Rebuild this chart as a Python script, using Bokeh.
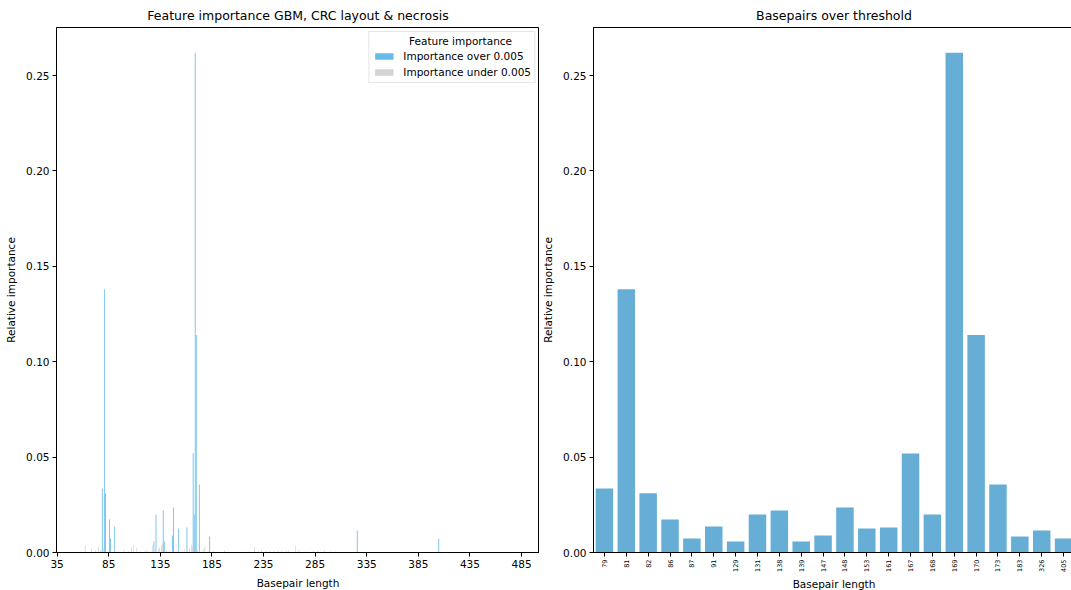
import math

from bokeh.embed import file_html
from bokeh.layouts import row
from bokeh.models import ColumnDataSource, FactorRange, FixedTicker, NumeralTickFormatter, Range1d
from bokeh.plotting import figure
from bokeh.resources import INLINE

# Basepair lengths whose importance is above the 0.005 threshold
bp_over = [79, 81, 82, 86, 87, 91, 129, 131, 138, 139, 147, 148, 153, 161,
           167, 168, 169, 170, 173, 183, 326, 405]
imp_over = [0.0335, 0.138, 0.031, 0.0173, 0.0073, 0.0136, 0.0058, 0.0199,
            0.022, 0.0058, 0.0089, 0.0236, 0.0126, 0.0131, 0.0519, 0.0199,
            0.262, 0.114, 0.0356, 0.0084, 0.0115, 0.0073]

# Basepair lengths below the threshold (only non-negligible ones listed)
bp_under = [57, 62, 68, 72, 75, 77, 80, 85, 90, 94, 99, 104, 107, 109, 112,
            116, 120, 122, 125, 127, 128, 133, 134, 136, 137, 141, 144, 150,
            152, 156, 158, 160, 163, 165, 166, 171, 175, 177, 178, 181, 186,
            190, 197, 205, 214, 220, 226, 230, 233, 237, 241, 245, 249, 252,
            257, 259, 266, 269, 275, 283, 287, 294, 300, 305, 315, 332, 350,
            362, 380, 398, 420, 440, 455, 470, 490]
imp_under = [0.0006, 0.0035, 0.002, 0.0008, 0.003, 0.0015, 0.0025, 0.0015,
             0.0008, 0.0006, 0.0012, 0.0006, 0.0028, 0.0038, 0.0025, 0.0005,
             0.001, 0.0015, 0.0008, 0.0037, 0.003, 0.0018, 0.0025, 0.0038,
             0.0042, 0.001, 0.0012, 0.0008, 0.0015, 0.0012, 0.0018, 0.0015,
             0.0025, 0.0042, 0.003, 0.0015, 0.0008, 0.0022, 0.003, 0.0006,
             0.0006, 0.0004, 0.001, 0.0004, 0.0005, 0.0006, 0.0028, 0.0006,
             0.0012, 0.0008, 0.0006, 0.0008, 0.0012, 0.0006, 0.0008, 0.0012,
             0.0036, 0.0015, 0.0005, 0.0012, 0.0008, 0.0012, 0.0005, 0.0006,
             0.0004, 0.0003, 0.0003, 0.0004, 0.0003, 0.0004, 0.0003, 0.0003,
             0.0004, 0.0003, 0.0004]

threshold = 0.005
x_ticks = list(range(35, 486, 50))
y_ticks = [0.0, 0.05, 0.10, 0.15, 0.20, 0.25]

FONT = "DejaVu Sans"
BLUE = "#56B4E9"
BAR_BLUE = "#66AED6"
GREY = "#D3D3D3"


def style(p):
    p.title.text_font = FONT
    p.title.text_font_size = "12.5px"
    p.title.text_font_style = "normal"
    p.title.align = "center"
    p.title.text_color = "#000000"
    p.outline_line_color = "#000000"
    p.outline_line_alpha = 1.0
    p.grid.visible = False
    for ax in (p.xaxis[0], p.yaxis[0]):
        ax.axis_line_color = "#000000"
        ax.major_tick_line_color = "#000000"
        ax.major_tick_out = 4
        ax.major_tick_in = 0
        ax.minor_tick_line_color = None
        ax.major_label_text_font = FONT
        ax.major_label_text_font_size = "10.5px"
        ax.major_label_text_color = "#000000"
        ax.axis_label_text_font = FONT
        ax.axis_label_text_font_size = "10.5px"
        ax.axis_label_text_font_style = "normal"
        ax.axis_label_text_color = "#000000"
        ax.major_label_standoff = 3
        ax.axis_label_standoff = 6
    p.yaxis.ticker = FixedTicker(ticks=y_ticks)
    p.yaxis.formatter = NumeralTickFormatter(format="0.00")
    p.yaxis.axis_label = "Relative importance"
    p.xaxis.axis_label = "Basepair length"


# ---- left panel: every basepair length, coloured by threshold ----
p1 = figure(frame_width=483, frame_height=525, min_border_left=56,
            min_border_right=0, min_border_top=27, min_border_bottom=38,
            x_range=Range1d(34.4, 502.4), y_range=Range1d(0, 0.2752),
            title="Feature importance GBM, CRC layout & necrosis",
            output_backend="svg", toolbar_location=None)

src_over = ColumnDataSource(dict(x=[b - 0.2 for b in bp_over], top=imp_over))
src_under = ColumnDataSource(dict(x=[b + 0.2 for b in bp_under], top=imp_under))

p1.vbar(x="x", top="top", width=0.8, source=src_over, fill_color=BLUE,
        fill_alpha=0.9, line_color=None, legend_label="Importance over 0.005")
p1.vbar(x="x", top="top", width=0.7, source=src_under, fill_color=GREY,
        fill_alpha=1.0, line_color=None, legend_label="Importance under 0.005")

style(p1)
p1.xaxis.ticker = FixedTicker(ticks=x_ticks)

lg = p1.legend[0]
lg.location = "top_right"
lg.margin = 4
lg.padding = 3
lg.spacing = 2
# non-breaking spaces push the heading towards the middle of the box
lg.title = "\u00a0" * 11 + "Feature importance"
lg.title_text_font = FONT
lg.title_text_font_size = "10.5px"
lg.title_text_font_style = "normal"
lg.title_text_color = "#000000"
lg.title_standoff = 2
lg.label_text_font = FONT
lg.label_text_font_size = "10.5px"
lg.label_text_color = "#000000"
lg.label_standoff = 8
lg.label_height = 14
lg.glyph_height = 8
lg.glyph_width = 23
lg.border_line_color = "#CCCCCC"
lg.background_fill_alpha = 0.8

# ---- right panel: only the lengths above the threshold ----
labels = [str(b) for b in bp_over]
p2 = figure(frame_width=481, frame_height=525, min_border_left=51,
            min_border_right=0, min_border_top=27, min_border_bottom=38,
            x_range=FactorRange(*labels), y_range=Range1d(0, 0.2752),
            title="Basepairs over threshold",
            output_backend="svg", toolbar_location=None)

p2.vbar(x=labels, top=imp_over, width=0.8, fill_color=BAR_BLUE,
        line_color=None)

style(p2)
p2.xaxis.major_label_orientation = math.pi / 2
p2.xaxis.major_label_text_font_size = "6.5px"
p2.xaxis.axis_label_standoff = 3
p2.x_range.range_padding = 0

layout = row(p1, p2)
open("out.html", "w").write(file_html(layout, INLINE))
